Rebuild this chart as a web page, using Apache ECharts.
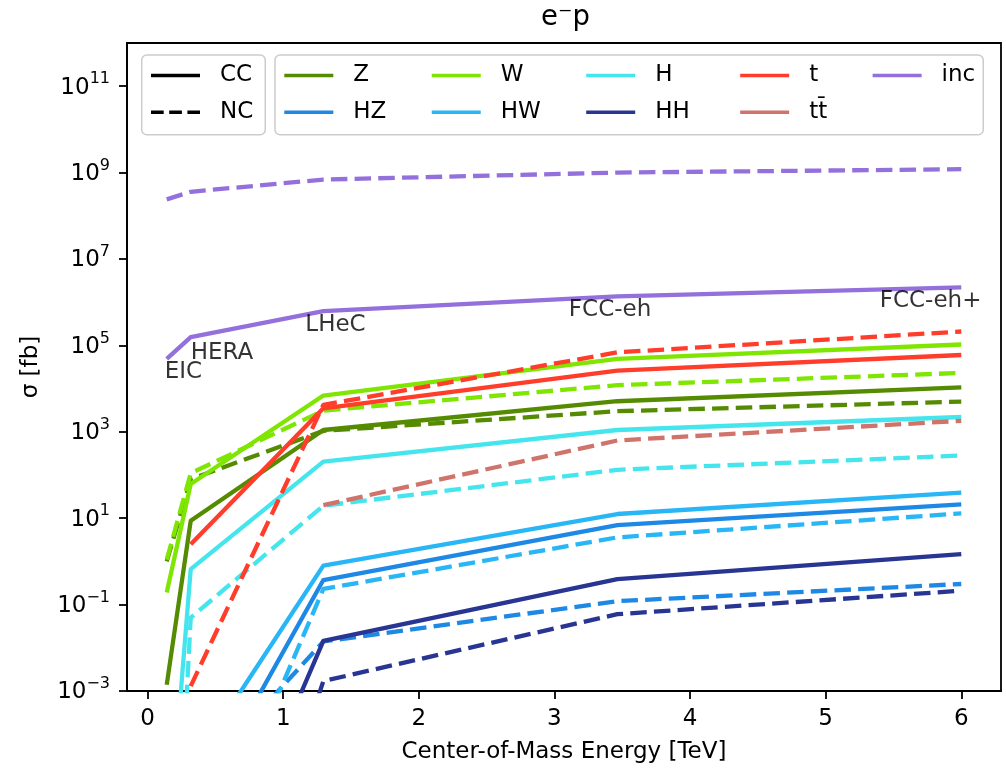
<!DOCTYPE html>
<html>
<head>
<meta charset="utf-8">
<script src="https://cdn.jsdelivr.net/npm/echarts@6/dist/echarts.min.js"></script>
<style>
  html, body { margin: 0; padding: 0; background: #ffffff; }
  #chart { width: 1006px; height: 771px; }
</style>
</head>
<body>
<div id="chart"></div>
<script>
// Centre-of-mass energies of the e-p colliders [TeV]
const energy   = [0.141, 0.318, 1.296, 3.464, 6.0];
const collider = ['EIC', 'HERA', 'LHeC', 'FCC-eh', 'FCC-eh+'];

// Cross sections [fb], charged current (CC) and neutral current (NC)
const Z_CC   = [1.4e-3, 8.7, 1.1e3, 5.1e3, 1.07e4];
const Z_NC   = [1.0, 80, 1.05e3, 3.0e3, 5.0e3];
const HZ_CC  = [null, 1.2e-6, 0.37, 6.9, 21];
const HZ_NC  = [null, 6e-6, 0.014, 0.12, 0.30];
const W_CC   = [0.19, 62, 6.9e3, 4.9e4, 1.05e5];
const W_NC   = [1.1, 110, 3.1e3, 1.2e4, 2.3e4];
const HW_CC  = [null, 1.7e-5, 0.8, 12.5, 39];
const HW_NC  = [null, 1.6e-8, 0.23, 3.6, 12.9];
const H_CC   = [8.5e-8, 0.66, 204, 1.1e3, 2.2e3];
const H_NC   = [1e-12, 0.05, 19.5, 132, 282];
const HH_CC  = [null, 1e-9, 0.0145, 0.39, 1.48];
const HH_NC  = [null, 1e-12, 0.0017, 0.06, 0.21];
const T_CC   = [null, 2.5, 3.5e3, 2.6e4, 6.0e4];
const T_NC   = [null, 1.3e-3, 4.2e3, 6.9e4, 2.1e5];
const TT_NC  = [null, null, 20, 630, 1.8e3];
const INC_CC = [4.9e4, 1.55e5, 6.2e5, 1.36e6, 2.2e6];
const INC_NC = [2.4e8, 3.6e8, 6.9e8, 1.0e9, 1.2e9];

// Axis ticks
const xTicks = [0, 1, 2, 3, 4, 5, 6];
const yTicks = [1e-3, 1e-1, 1e1, 1e3, 1e5, 1e7, 1e9, 1e11];

const FONT = 'DejaVu Sans';
const FS = 23;
const LW = 4.3;              // curves
const DASH = [16.5, 7.2];
const LEG_LW = 3.4;          // legend handles
const LEG_DASH = [12.7, 5.5];

const processes = [
  { name: 'Z',   color: '#558b00', cc: Z_CC,   nc: Z_NC },
  { name: 'HZ',  color: '#1e88e5', cc: HZ_CC,  nc: HZ_NC },
  { name: 'W',   color: '#7ee600', cc: W_CC,   nc: W_NC },
  { name: 'HW',  color: '#29b6f6', cc: HW_CC,  nc: HW_NC },
  { name: 'H',   color: '#45e5ee', cc: H_CC,   nc: H_NC },
  { name: 'HH',  color: '#283593', cc: HH_CC,  nc: HH_NC },
  { name: 't',   color: '#ff3d2a', cc: T_CC,   nc: T_NC },
  { name: 'tt\u0304', color: '#d0736a', cc: null, nc: TT_NC },
  { name: 'inc', color: '#9370db', cc: INC_CC, nc: INC_NC }
];

const points = vals => energy.map((e, i) => [e, vals[i]]);

function lineSeries(name, color, vals, dashed) {
  return {
    type: 'line',
    name: name,
    data: points(vals),
    symbol: 'none',
    clip: true,
    connectNulls: false,
    silent: true,
    color: color,
    itemStyle: { color: color },
    lineStyle: { color: color, width: LW, type: dashed ? DASH : 'solid', cap: 'butt', join: 'round' }
  };
}

const series = [];
// legend-only entries for the two line styles
series.push({ type: 'line', name: 'CC', data: [], symbol: 'none', color: '#000',
  lineStyle: { color: '#000', width: LEG_LW, type: 'solid' } });
series.push({ type: 'line', name: 'NC', data: [], symbol: 'none', color: '#000',
  lineStyle: { color: '#000', width: LEG_LW, type: LEG_DASH, cap: 'butt' } });

processes.forEach(p => {
  if (p.cc) series.push(lineSeries(p.name, p.color, p.cc, false));
  if (p.nc) series.push(lineSeries(p.name, p.color, p.nc, true));
});

// collider names written under the inclusive CC curve
const nameShift = [[-2, 1.5], [0, 4], [-18, 2], [-48.5, 2], [-81.5, 2.5]];
series.push({
  type: 'scatter',
  name: 'colliders',
  silent: true,
  symbolSize: 0.01,
  itemStyle: { color: 'rgba(0,0,0,0)' },
  z: 5,
  label: {
    show: true, formatter: '{b}', align: 'left', verticalAlign: 'top',
    fontFamily: FONT, fontSize: FS, color: '#000'
  },
  data: collider.map((c, i) => ({
    name: c,
    value: [energy[i], INC_CC[i]],
    label: { position: nameShift[i] }
  }))
});

const legendText = { fontFamily: FONT, fontSize: FS, color: '#000', lineHeight: 25 };
const hiddenMarker = { color: 'rgba(0,0,0,0)', borderWidth: 0, opacity: 0 };
const colPadRight = { 'Z': 32, 'HZ': 32, 'W': 32, 'HW': 32, 'H': 37, 'HH': 37, 't': 32, 'tt\u0304': 32, 'inc': 0 };

const option = {
  animation: false,
  backgroundColor: '#ffffff',
  title: {
    text: 'e\u207Bp',
    left: 541, top: 4, padding: 0,
    textStyle: { fontFamily: FONT, fontSize: 27.5, fontWeight: 'normal', color: '#000' }
  },
  grid: {
    left: 127, right: 5, top: 43, bottom: 80,
    show: true, borderColor: '#000', borderWidth: 1.8, backgroundColor: 'transparent'
  },
  legend: [
    {
      data: ['CC', 'NC'],
      orient: 'vertical',
      left: 141.7, top: 55,
      padding: [8, 12, 10, 7.6],
      itemGap: 11.7,
      itemWidth: 49, itemHeight: 14,
      borderColor: '#cccccc', borderWidth: 1.5, borderRadius: 5,
      backgroundColor: 'rgba(255,255,255,0.8)',
      lineStyle: { width: LEG_LW },
      itemStyle: hiddenMarker,
      textStyle: Object.assign({ padding: [0, 0, 0, 15] }, legendText),
      selectedMode: false
    },
    {
      data: processes.map(p => ({
        name: p.name,
        textStyle: { padding: [0, colPadRight[p.name], 0, 15] },
        lineStyle: { type: 'solid', width: LEG_LW }
      })),
      orient: 'vertical',
      left: 275, top: 55,
      height: 64,
      padding: [8, 8, 10, 7.6],
      itemGap: 11.7,
      itemWidth: 49, itemHeight: 14,
      borderColor: '#cccccc', borderWidth: 1.5, borderRadius: 5,
      backgroundColor: 'rgba(255,255,255,0.8)',
      lineStyle: { width: LEG_LW },
      itemStyle: hiddenMarker,
      textStyle: Object.assign({}, legendText),
      selectedMode: false
    }
  ],
  xAxis: {
    type: 'value',
    min: -0.152, max: 6.293,
    name: 'Center-of-Mass Energy [TeV]',
    nameLocation: 'middle',
    nameGap: 50,
    nameTextStyle: { fontFamily: FONT, fontSize: FS, color: '#000' },
    axisLine: { show: true, onZero: false, lineStyle: { color: '#000', width: 1.8 } },
    axisTick: { show: true, length: 8, lineStyle: { color: '#000', width: 1.8 }, customValues: xTicks },
    axisLabel: { margin: 17, fontFamily: FONT, fontSize: FS, color: '#000', customValues: xTicks },
    splitLine: { show: false }
  },
  yAxis: {
    type: 'log',
    logBase: 10,
    min: 1e-3, max: 1e12,
    name: '\u03C3 [fb]',
    nameLocation: 'middle',
    nameGap: 84,
    nameRotate: 90,
    nameTextStyle: { fontFamily: FONT, fontSize: FS, color: '#000' },
    axisLine: { show: true, onZero: false, lineStyle: { color: '#000', width: 1.8 } },
    axisTick: { show: true, length: 8, lineStyle: { color: '#000', width: 1.8 }, customValues: yTicks },
    axisLabel: {
      margin: 17,
      customValues: yTicks,
      formatter: v => {
        const e = Math.round(Math.log10(v));
        return '{b|10}{s|' + (e < 0 ? '\u2212' + (-e) : String(e)) + '}';
      },
      rich: {
        b: { fontFamily: FONT, fontSize: FS, color: '#000', lineHeight: 26, verticalAlign: 'bottom' },
        s: { fontFamily: FONT, fontSize: 16, color: '#000', lineHeight: 17, verticalAlign: 'bottom', padding: [0, 0, 12, 0] }
      }
    },
    splitLine: { show: false },
    minorTick: { show: false }
  },
  series: series
};

const chart = echarts.init(document.getElementById('chart'), null, { renderer: 'canvas' });
chart.setOption(option);
</script>
</body>
</html>
